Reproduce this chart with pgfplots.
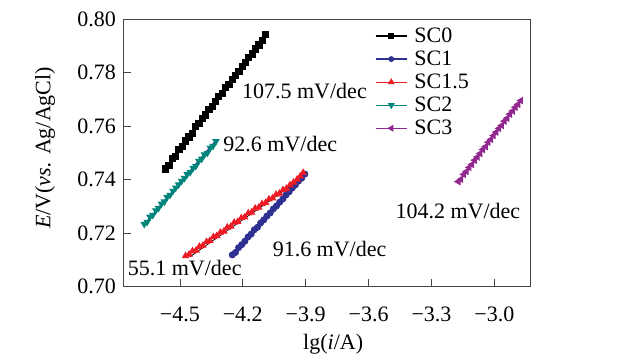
\documentclass[border=0pt]{standalone}
\usepackage{pgfplots}
\pgfplotsset{compat=1.18}
\usepackage{fontspec}
\setmainfont{Liberation Serif}
\definecolor{cBlue}{RGB}{46,49,146}
\definecolor{cRed}{RGB}{237,28,36}
\definecolor{cTeal}{RGB}{0,133,125}
\definecolor{cPurple}{RGB}{146,39,143}
\definecolor{cFit}{RGB}{60,60,140}
\definecolor{cFrame}{RGB}{70,70,70}
\pgfplotsset{myleg/.style={legend image code/.code={%
  \draw[line width=1.2pt,mark=none] (0pt,0pt) -- (31pt,0pt);
  \draw[mark size=#1] plot coordinates {(15.5pt,0pt)};}}}
\begin{document}
\begin{tikzpicture}[font=\fontsize{22}{23}\selectfont]
\begin{axis}[
  at={(0pt,0pt)}, anchor=south west,
  scale only axis, width=406.7pt, height=267.4pt,
  xmin=-4.77, xmax=-2.83, ymin=0.70, ymax=0.80,
  axis line style={cFrame, line width=0.8pt},
  tick style={cFrame, line width=0.8pt},
  tick align=inside, major tick length=8pt,
  xtick pos=bottom, ytick pos=left,
  xtick={-4.5,-4.2,-3.9,-3.6,-3.3,-3.0},
  xticklabels={−4.5,−4.2,−3.9,−3.6,−3.3,−3.0},
  ytick={0.70,0.72,0.74,0.76,0.78,0.80},
  yticklabels={0.70,0.72,0.74,0.76,0.78,0.80},
  xticklabel style={yshift=-17pt},
  yticklabel style={xshift=-4pt},
  xlabel={lg(\textit{i}/A)},
  xlabel style={at={(axis description cs:0.516,-0.215)}, anchor=center},
  ylabel={\textit{E}/V(\textit{vs.} Ag/AgCl)},
  ylabel style={at={(axis description cs:-0.1925,0.519)}, anchor=center, rotate=0},
  legend style={at={(axis description cs:0.6164,0.976)}, anchor=north west, draw=none, fill=none,
    row sep=5pt, column sep=6pt, inner sep=1pt, font=\fontsize{22}{23}\selectfont,
    nodes={inner sep=1pt}},
  legend cell align=left,
]
% SC0
\addplot[black, line width=1pt, mark=square*, mark size=3.1pt, myleg=2.6pt] coordinates {
(-4.568,0.7440) (-4.552,0.7452) (-4.536,0.7478) (-4.520,0.7488) (-4.504,0.7512)
(-4.488,0.7524) (-4.473,0.7545) (-4.457,0.7560) (-4.441,0.7574) (-4.425,0.7598)
(-4.409,0.7610) (-4.393,0.7629) (-4.377,0.7642) (-4.361,0.7663) (-4.345,0.7674)
(-4.330,0.7692) (-4.314,0.7710) (-4.298,0.7722) (-4.282,0.7745) (-4.266,0.7757)
(-4.250,0.7776) (-4.234,0.7790) (-4.218,0.7806) (-4.202,0.7824) (-4.186,0.7838)
(-4.171,0.7857) (-4.155,0.7870) (-4.139,0.7889) (-4.123,0.7904) (-4.107,0.7922)
(-4.091,0.7944)};
\addlegendentry{SC0}
% SC1
\addplot[cBlue, line width=1pt, mark=*, mark size=3pt, myleg=2.4pt] coordinates {
(-4.250,0.7119) (-4.235,0.7128) (-4.220,0.7146) (-4.205,0.7157) (-4.190,0.7170)
(-4.175,0.7186) (-4.160,0.7197) (-4.145,0.7213) (-4.130,0.7222) (-4.115,0.7238)
(-4.100,0.7250) (-4.085,0.7264) (-4.069,0.7276) (-4.054,0.7291) (-4.039,0.7302)
(-4.024,0.7316) (-4.009,0.7328) (-3.994,0.7343) (-3.979,0.7355) (-3.964,0.7369)
(-3.949,0.7381) (-3.934,0.7395) (-3.919,0.7406) (-3.904,0.7421)};
\addlegendentry{SC1}
% SC1.5
\addplot[cRed, line width=1pt, mark=triangle*, mark size=3.4pt, myleg=3pt] coordinates {
(-4.473,0.7115) (-4.456,0.7121) (-4.440,0.7133) (-4.423,0.7136) (-4.407,0.7150)
(-4.390,0.7154) (-4.373,0.7168) (-4.357,0.7172) (-4.340,0.7186) (-4.324,0.7190)
(-4.307,0.7203) (-4.290,0.7207) (-4.274,0.7222) (-4.257,0.7225) (-4.241,0.7240)
(-4.224,0.7243) (-4.207,0.7257) (-4.191,0.7260) (-4.174,0.7275) (-4.158,0.7278)
(-4.141,0.7293) (-4.124,0.7296) (-4.108,0.7310) (-4.091,0.7314) (-4.075,0.7327)
(-4.058,0.7331) (-4.041,0.7345) (-4.025,0.7349) (-4.008,0.7362) (-3.992,0.7367)
(-3.975,0.7380) (-3.958,0.7390) (-3.941,0.7401) (-3.926,0.7413) (-3.912,0.7426)};
\addlegendentry{SC1.5}
% SC2
\addplot[cTeal, line width=1pt, mark=triangle*, mark options={rotate=180}, mark size=3.4pt, myleg=3pt] coordinates {
(-4.670,0.7234) (-4.656,0.7242) (-4.643,0.7261) (-4.629,0.7268) (-4.615,0.7285)
(-4.602,0.7294) (-4.588,0.7310) (-4.574,0.7318) (-4.561,0.7335) (-4.547,0.7343)
(-4.533,0.7358) (-4.520,0.7370) (-4.506,0.7382) (-4.492,0.7395) (-4.478,0.7406)
(-4.465,0.7420) (-4.451,0.7428) (-4.437,0.7444) (-4.424,0.7451) (-4.410,0.7470)
(-4.396,0.7478) (-4.383,0.7494) (-4.369,0.7500) (-4.355,0.7519) (-4.342,0.7526)
(-4.328,0.7544)};
\addlegendentry{SC2}
% SC3
\addplot[cPurple, line width=1pt, mark=triangle*, mark options={rotate=90}, mark size=3.4pt, myleg=3pt] coordinates {
(-3.172,0.7393) (-3.159,0.7402) (-3.146,0.7420) (-3.133,0.7431) (-3.120,0.7446)
(-3.107,0.7457) (-3.094,0.7473) (-3.081,0.7485) (-3.068,0.7498) (-3.055,0.7513)
(-3.042,0.7524) (-3.029,0.7540) (-3.016,0.7551) (-3.004,0.7565) (-2.991,0.7578)
(-2.978,0.7592) (-2.965,0.7603) (-2.952,0.7619) (-2.939,0.7630) (-2.926,0.7645)
(-2.913,0.7657) (-2.900,0.7671) (-2.887,0.7682) (-2.874,0.7696)};
\addlegendentry{SC3}
% fit lines
\addplot[cRed, line width=0.7pt, forget plot] coordinates {(-4.565,0.7443) (-4.095,0.7948)};
\addplot[cRed, line width=1pt, forget plot] coordinates {(-4.245,0.7121) (-3.910,0.7418)};
\addplot[black, line width=0.8pt, forget plot] coordinates {(-4.452,0.7112) (-3.952,0.7387)};
\addplot[cFit, line width=1.4pt, forget plot] coordinates {(-4.665,0.7236) (-4.335,0.7540)};
\addplot[black, line width=1.2pt, forget plot] coordinates {(-3.165,0.7397) (-2.880,0.7690)};
% annotations
\node[anchor=base west, inner sep=0pt] at (axis cs:-4.204,0.7705) {107.5 mV/dec};
\node[anchor=base west, inner sep=0pt] at (axis cs:-4.293,0.7505) {92.6 mV/dec};
\node[anchor=base west, inner sep=0pt] at (axis cs:-4.749,0.70437) {55.1 mV/dec};
\node[anchor=base west, inner sep=0pt] at (axis cs:-4.058,0.7112) {91.6 mV/dec};
\node[anchor=base west, inner sep=0pt] at (axis cs:-3.472,0.7256) {104.2 mV/dec};
\end{axis}
\path (-123.3pt,-76.3pt) rectangle (517.7pt,286.7pt);
\end{tikzpicture}
\end{document}
